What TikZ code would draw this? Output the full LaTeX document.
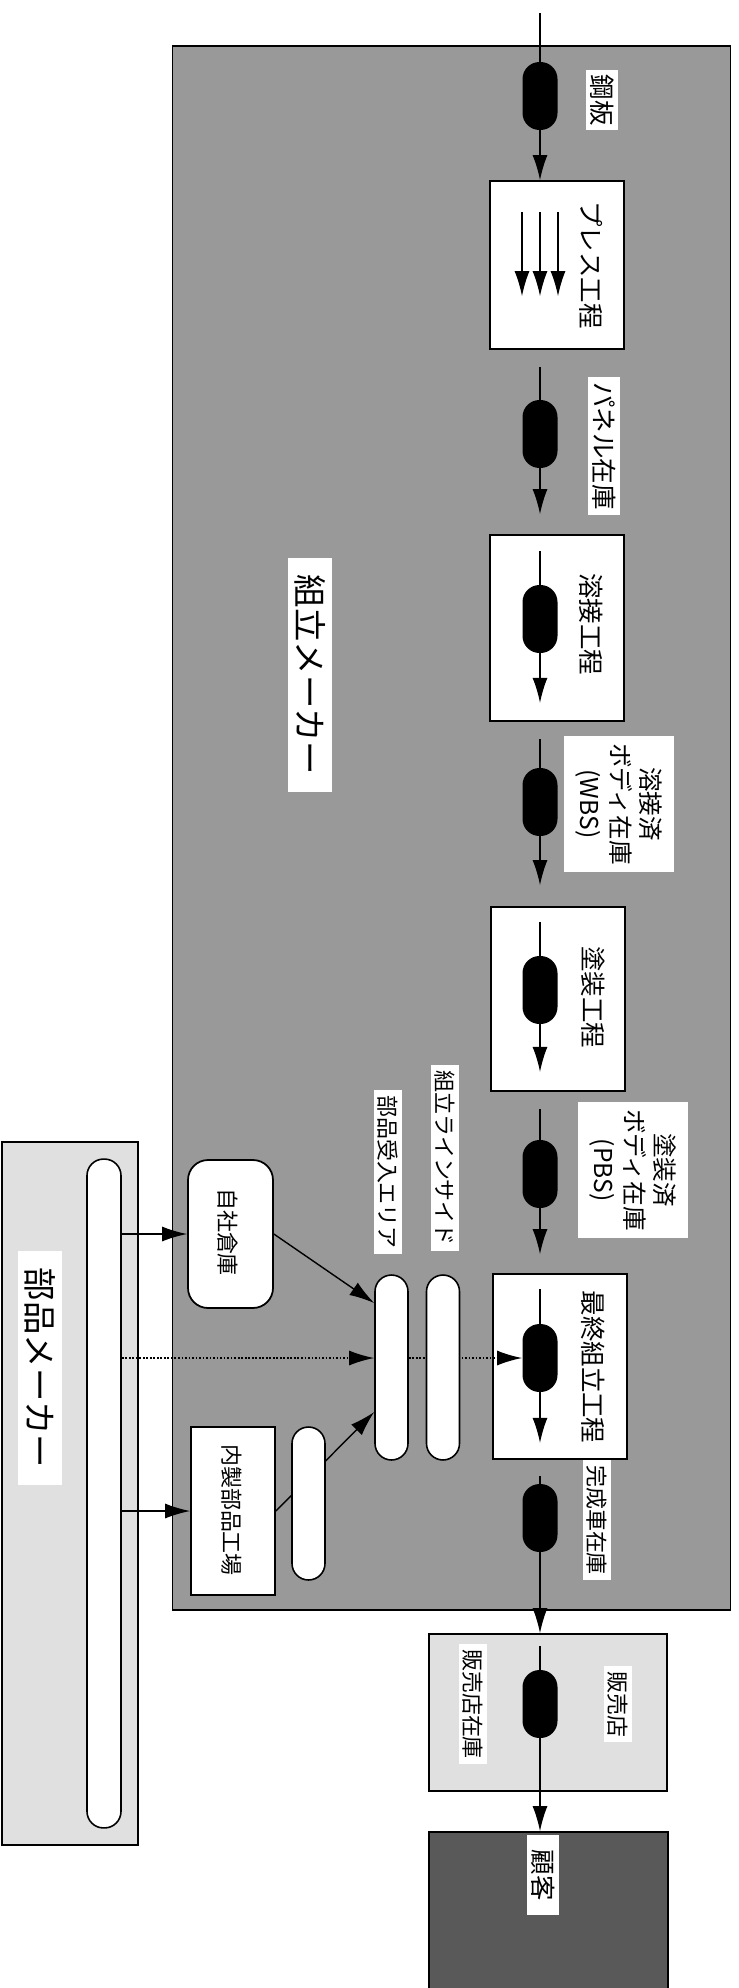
\documentclass[tikz,border=0pt]{standalone}
\usepackage{fontspec}
\setmainfont{Noto Sans CJK JP}
\usetikzlibrary{arrows.meta,calc}
\begin{document}
\begin{tikzpicture}[x=0.02cm,y=-0.02cm]
% Styles
\tikzstyle{fleche}=[-{Latex[length=0.5cm,width=0.3cm]},line width=0.8pt]
\tikzstyle{trait}=[line width=0.8pt]
\tikzstyle{pointille}=[line width=1pt,densely dotted]
\tikzstyle{stock}=[fill=black,rounded corners=0.34cm,minimum width=0.7cm,minimum height=1.36cm,inner sep=0pt]
\tikzstyle{etape}=[draw,line width=1pt,fill=white,minimum width=2.68cm,inner sep=0pt]
\tikzstyle{barre}=[draw,line width=0.9pt,fill=white,rounded corners=0.33cm,minimum width=0.66cm,inner sep=0pt]
\tikzstyle{zone}=[draw,line width=1pt,inner sep=0pt]
\tikzstyle{etiquette}=[fill=white,rotate=-90,inner xsep=0.1cm,inner ysep=0.08cm,font=\fontsize{14.5}{17}\selectfont]
\tikzstyle{petite}=[etiquette,font=\fontsize{12.5}{15}\selectfont]
\tikzstyle{bloc}=[etiquette,align=center,inner xsep=0.14cm,inner ysep=0.24cm,font=\fontsize{14}{17.5}\selectfont]
\tikzstyle{grande}=[etiquette,inner xsep=0.34cm,inner ysep=0.14cm,font=\fontsize{19}{22}\selectfont]
% Dimensions
\def\AxeFlux{540}
\def\AxeTexte{591}
% Cadre
\fill[white] (0,0) rectangle (738,1988);
\useasboundingbox (0,0) rectangle (738,1988);
% Zones
\node[zone,fill=black!40,minimum width=11.16cm,minimum height=31.28cm] (assembleur) at (451.5,828) {};
\node[zone,fill=black!12,minimum width=2.72cm,minimum height=14.06cm] (fournisseur) at (70,1493.5) {};
\node[zone,fill=black!12,minimum width=4.76cm,minimum height=3.14cm] (concession) at (548,1712.5) {};
\node[zone,fill=black!65,minimum width=4.78cm,minimum height=3.36cm] (client) at (548.5,1916) {};
% Etapes
\node[etape,minimum height=3.36cm] (presse) at (557,265) {};
\node[etape,minimum height=3.72cm] (soudure) at (557,628) {};
\node[etape,minimum height=3.68cm] (peinture) at (558,999) {};
\node[etape,minimum height=3.7cm] (montage) at (560,1366.5) {};
% Stocks
\coordinate (debut) at (\AxeFlux,13);
\node[stock] (ovacier) at (\AxeFlux,96) {};
\node[stock] (ovpanneau) at (\AxeFlux,434) {};
\node[stock] (ovsoudure) at (\AxeFlux,619) {};
\node[stock] (ovwbs) at (\AxeFlux,802) {};
\node[stock] (ovpeinture) at (\AxeFlux,990) {};
\node[stock] (ovpbs) at (\AxeFlux,1174) {};
\node[stock] (ovmontage) at (\AxeFlux,1358) {};
\node[stock] (ovfini) at (\AxeFlux,1518) {};
\node[stock] (ovconcession) at (\AxeFlux,1704) {};
% Pieces
\node[barre,minimum width=0.68cm,minimum height=13.38cm] (barrefour) at (104,1493.5) {};
\node[draw,line width=1pt,fill=white,rounded corners=0.4cm,minimum width=1.7cm,minimum height=2.96cm] (magasin) at (230.5,1234) {};
\node[etape,minimum width=1.68cm,minimum height=3.36cm] (interne) at (233,1511) {};
\node[barre,minimum height=3.7cm] (reception) at (391.5,1367.5) {};
% Etiquettes
\node[etiquette] (lacier) at (602,100) {鋼板};
\node[etiquette] (lpresse) at (\AxeTexte,265) {プレス工程};
\node[etiquette] (lpanneau) at (604,446) {パネル在庫};
\node[etiquette] (lsoudure) at (\AxeTexte,624) {溶接工程};
\node[bloc] (lwbs) at (619,804) {溶接済\\ボディ在庫\\(WBS)};
\node[etiquette] (lpeinture) at (593,997) {塗装工程};
\node[bloc] (lpbs) at (633,1170) {塗装済\\ボディ在庫\\(PBS)};
\node[etiquette] (lmontage) at (593,1367) {最終組立工程};
\node[petite] (lfini) at (597,1520) {完成車在庫};
\node[petite] (lconcession) at (618,1704) {販売店};
\node[petite] (lstockconc) at (473,1704) {販売店在庫};
\node[etiquette,inner xsep=0.3cm] (lclient) at (543,1875) {顧客};
\node[grande] (lassembleur) at (310,675) {組立メーカー};
\node[grande] (lfournisseur) at (40,1368) {部品メーカー};
\node[petite] (lmagasin) at (228,1232) {自社倉庫};
\node[petite] (linterne) at (232,1510) {内製部品工場};
\node[petite] (lbordligne) at (445,1158) {組立ラインサイド};
\node[petite] (lreception) at (388,1172) {部品受入エリア};
% Arcs
\draw[trait] (debut) -- (ovacier);
\draw[fleche] (ovacier) -- (ovacier |- presse.north);
\foreach \dx in {-18,0,18}
  \draw[fleche] ($(presse.north -| ovacier)+(\dx,32)$) -- ++(0,84);
\draw[trait] ($(presse.south -| ovpanneau)+(0,17)$) -- (ovpanneau);
\draw[fleche] (ovpanneau) -- ($(soudure.north -| ovpanneau)+(0,-20)$);
\draw[trait] ($(soudure.north -| ovsoudure)+(0,17)$) -- (ovsoudure);
\draw[fleche] (ovsoudure) -- ($(soudure.south -| ovsoudure)+(0,-19)$);
\draw[trait] ($(soudure.south -| ovwbs)+(0,17)$) -- (ovwbs);
\draw[fleche] (ovwbs) -- ($(peinture.north -| ovwbs)+(0,-21)$);
\draw[trait] ($(peinture.north -| ovpeinture)+(0,16)$) -- (ovpeinture);
\draw[fleche] (ovpeinture) -- ($(peinture.south -| ovpeinture)+(0,-20)$);
\draw[trait] ($(peinture.south -| ovpbs)+(0,17)$) -- (ovpbs);
\draw[fleche] (ovpbs) -- ($(montage.north -| ovpbs)+(0,-19)$);
\draw[trait] ($(montage.north -| ovmontage)+(0,16)$) -- (ovmontage);
\draw[fleche] (ovmontage) -- ($(montage.south -| ovmontage)+(0,-17)$);
\draw[trait] ($(montage.south -| ovfini)+(0,16)$) -- (ovfini);
\draw[fleche] (ovfini) -- (ovfini |- concession.north);
\draw[trait] ($(concession.north -| ovconcession)+(0,13)$) -- (ovconcession);
\draw[fleche] (ovconcession) -- (ovconcession |- client.north);
\draw[fleche] (barrefour.east |- magasin.west) -- (magasin.west);
\draw[fleche,pointille] (barrefour.east |- ovmontage) -- (reception.west |- ovmontage);
\draw[fleche] (barrefour.east |- interne.west) -- (interne.west);
\draw[fleche] (magasin.east) -- ([yshift=1.29cm]reception.west);
\draw[fleche] (interne.east) -- ([yshift=-0.89cm]reception.west);
\draw[fleche,pointille] (reception.east |- ovmontage) -- (ovmontage);
% Barres
\node[barre,minimum height=3.06cm] (barreinterne) at (308.5,1503.5) {};
\node[barre,minimum height=3.7cm] (bordligne) at (443,1367.5) {};
\end{tikzpicture}
\end{document}
